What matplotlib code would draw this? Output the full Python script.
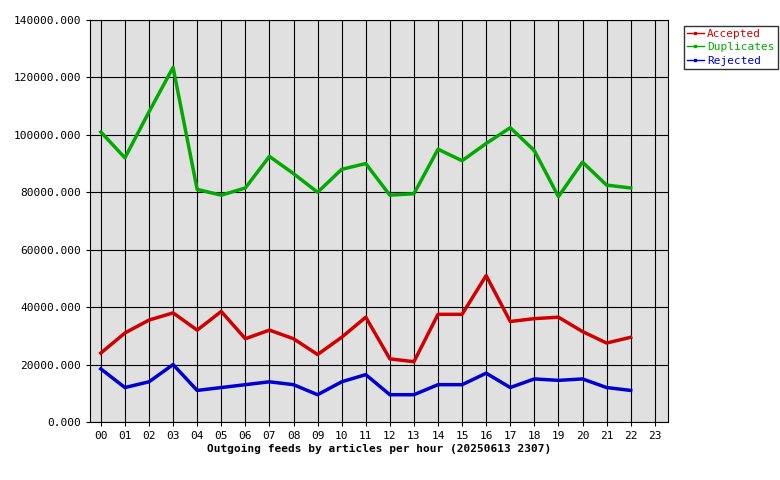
import matplotlib

matplotlib.use("Agg")

import matplotlib.pyplot as plt

HOURS = [f"{h:02d}" for h in range(24)]

ACCEPTED = [24000, 31000, 35500, 38000, 32000, 38500, 29000, 32000, 29000, 23500, 29500, 36500,
            22000, 21000, 37500, 37500, 51000, 35000, 36000, 36500, 31500, 27500, 29500]
DUPLICATES = [101000, 92000, 108000, 123500, 81000, 79000, 81500, 92500, 86500, 80000, 88000, 90000,
              79000, 79500, 95000, 91000, 97000, 102500, 94500, 78500, 90500, 82500, 81500]
REJECTED = [18500, 12000, 14000, 20000, 11000, 12000, 13000, 14000, 13000, 9500, 14000, 16500,
            9500, 9500, 13000, 13000, 17000, 12000, 15000, 14500, 15000, 12000, 11000]

SERIES = [
    ("Accepted", ACCEPTED, "#d00000"),
    ("Duplicates", DUPLICATES, "#00aa00"),
    ("Rejected", REJECTED, "#0000d0"),
]

plt.rcParams["font.family"] = "DejaVu Sans Mono"
plt.rcParams["font.size"] = 8

fig = plt.figure(figsize=(7.8, 4.8), dpi=100)
ax = fig.add_axes([90 / 780, 58 / 480, 578 / 780, 402 / 480])
ax.set_facecolor("#e0e0e0")

x = list(range(len(ACCEPTED)))
for label, values, color in SERIES:
    ax.plot(x, values, color=color, linewidth=2.5, label=label)

ax.set_xlim(-0.45, 23.55)
ax.set_ylim(0, 140000)
ax.set_xticks(range(24))
ax.set_xticklabels(HOURS)
ax.set_yticks(range(0, 140001, 20000))
ax.set_yticklabels([f"{v}.000" for v in range(0, 140001, 20000)])
ax.grid(True, color="black", linewidth=0.8)
ax.set_axisbelow(True)
ax.tick_params(length=3)
for spine in ax.spines.values():
    spine.set_linewidth(0.8)
ax.set_xlabel("Outgoing feeds by articles per hour (20250613 2307)", fontweight="bold", labelpad=2)

handles = [plt.Line2D([], [], color=c, linewidth=1, marker="s", markersize=2) for _, _, c in SERIES]
leg = fig.legend(handles, [s[0] for s in SERIES], loc="upper left",
                 bbox_to_anchor=(678 / 780, 1 - 20 / 480), frameon=True, fancybox=False,
                 handlelength=1.5, handletextpad=0.3, borderpad=0.3, labelspacing=0.3)
leg.get_frame().set_edgecolor("black")
for text, (_, _, c) in zip(leg.get_texts(), SERIES):
    text.set_color(c)

fig.savefig("out.png", dpi=100)
